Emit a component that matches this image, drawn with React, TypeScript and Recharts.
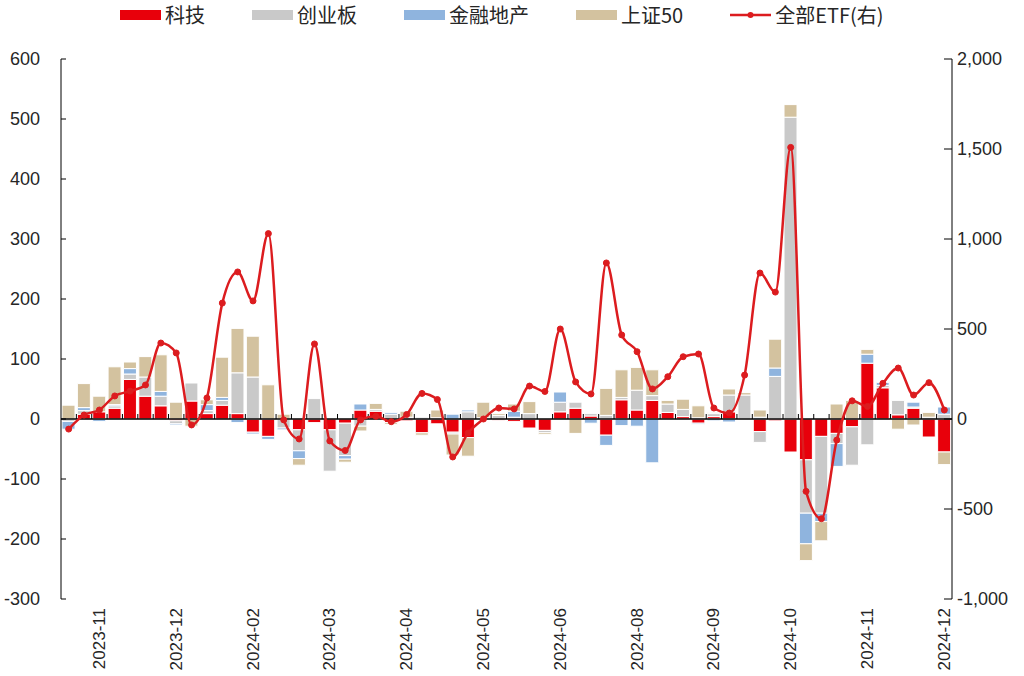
import React from 'react';
import { ComposedChart, Bar, Line, XAxis, YAxis, ReferenceLine, Legend } from 'recharts';

const dates = [
  '2023-11-10', '2023-11-17', '2023-11-24', '2023-12-01', '2023-12-08', '2023-12-15', '2023-12-22', '2023-12-29',
  '2024-01-05', '2024-01-12', '2024-01-19', '2024-01-26', '2024-02-02', '2024-02-08', '2024-02-23', '2024-03-01',
  '2024-03-08', '2024-03-15', '2024-03-22', '2024-03-29', '2024-04-03', '2024-04-12', '2024-04-19', '2024-04-26',
  '2024-04-30', '2024-05-10', '2024-05-17', '2024-05-24', '2024-05-31', '2024-06-07', '2024-06-14', '2024-06-21',
  '2024-06-28', '2024-07-05', '2024-07-12', '2024-07-19', '2024-07-26', '2024-08-02', '2024-08-09', '2024-08-16',
  '2024-08-23', '2024-08-30', '2024-09-06', '2024-09-13', '2024-09-20', '2024-09-27', '2024-09-30', '2024-10-11',
  '2024-10-18', '2024-10-25', '2024-11-01', '2024-11-08', '2024-11-15', '2024-11-22', '2024-11-29', '2024-12-06',
  '2024-12-13', '2024-12-20',
];

// 科技
const tech = [
  0, 8, 12, 18, 66, 38, 22, -3, 30, 9, 23, 9, -22, -29, 0, -18,
  -6, -18, -7, 15, 13, -6, -3, -23, -8, -22, -31, 0, -2, -4, -15, -19,
  12, 18, 5, -27, 32, 15, 31, 11, 4, -7, 4, 12, 0, -21, -3, -55,
  -68, -29, -24, -13, 93, 52, 7, 18, -30, -55,
];
// 创业板
const chinext = [
  -4, 6, 0, 4, 9, 32, 16, -5, 30, 5, 8, 68, 70, 0, -15, -35,
  34, -69, -54, -12, 3, 8, 3, 3, 2, -3, 12, 2, 6, 3, 9, -4,
  16, 10, 4, 6, 4, 33, 8, 14, 12, 2, 5, 28, 40, -18, 71, 503,
  -89, -128, -17, -64, -43, 4, 24, 2, 3, 8,
];
// 金融地产
const finance = [
  -13, 5, -4, 2, 9, 0, 8, -2, 0, 10, 5, -6, -3, -5, -3, -13,
  0, 0, -6, 10, 0, 3, 0, 0, 0, 8, 3, 0, 0, 10, 0, 0,
  17, 0, -7, -17, -11, -12, -73, 0, 0, -2, -3, -5, 0, 3, 14, 0,
  -51, -14, -38, 0, 15, 5, 0, 8, 0, 12,
];
// 上证50
const sz50 = [
  23, 40, 26, 63, 11, 34, 61, 28, -12, 8, 67, 74, 68, 57, 8, -11,
  0, 0, -5, -8, 10, -3, 10, -4, 13, -35, -31, 26, 3, 12, 20, -3,
  0, -24, 0, 45, 46, 38, 43, 6, 17, 20, 2, 10, 4, 12, 48, 21,
  -28, -32, 25, 31, 8, 0, -17, -10, 8, -21,
];
// 全部ETF(右)
const etfAll = [
  -56, 22, 50, 128, 155, 189, 422, 367, -33, 117, 644, 817, 656, 1030, -5, -111,
  417, -122, -175, -5, 15, -15, 25, 142, 108, -211, -78, 0, 61, 56, 183, 153,
  500, 206, 139, 867, 467, 374, 167, 235, 346, 361, 61, 33, 244, 811, 705, 1509,
  -402, -554, -117, 101, 70, 198, 283, 133, 202, 50,
];

const seriesNames = ['科技', '创业板', '金融地产', '上证50', '全部ETF(右)'];
const leftTicks = [-300, -200, -100, 0, 100, 200, 300, 400, 500, 600];
const rightTicks = [-1000, -500, 0, 500, 1000, 1500, 2000];

const RED = '#E8000B';
const GRAY = '#C9C9C9';
const BLUE = '#8FB4DE';
const TAN = '#D3C29F';
const LINE = '#DC1C1F';

const data = dates.map((d, i) => ({
  date: d,
  tech: tech[i],
  chinext: chinext[i],
  finance: finance[i],
  sz50: sz50[i],
  etf: etfAll[i],
}));

const FONT = '"Liberation Sans", Arial, "Noto Sans CJK SC", sans-serif';
const CJK = '"Noto Sans CJK SC", "Liberation Sans", sans-serif';

const XTick = (props: any) => {
  const { x, y, payload, index } = props;
  if (index % 5 !== 2) return null;
  const label = String(payload.value).slice(0, 7);
  return (
    <text
      x={x}
      y={y}
      transform={`rotate(-90, ${x}, ${y})`}
      textAnchor="end"
      dominantBaseline="central"
      fontSize={17}
      fontFamily={FONT}
      fill="#262626"
    >
      {label}
    </text>
  );
};

const ZeroLine = (props: any) => {
  const { x1, x2, y1 } = props;
  const n = dates.length;
  const step = (x2 - x1) / n;
  const marks = [];
  for (let k = 1; k < n; k++) {
    const xx = x1 + k * step;
    marks.push(<line key={k} x1={xx} x2={xx} y1={y1} y2={y1 - 5} stroke="#000" strokeWidth={1} />);
  }
  return (
    <g>
      <line x1={x1} x2={x2} y1={y1} y2={y1} stroke="#000" strokeWidth={1.5} />
      {marks}
    </g>
  );
};

const LegendContent = (props: any) => {
  const payload = [...(props.payload || [])].sort(
    (a: any, b: any) => seriesNames.indexOf(a.value) - seriesNames.indexOf(b.value)
  );
  return (
    <div style={{ display: 'flex', alignItems: 'center', paddingLeft: 120, gap: 47, height: 30 }}>
      {payload.map((p: any) => (
        <div key={p.value} style={{ display: 'flex', alignItems: 'center' }}>
          {p.type === 'line' ? (
            <svg width={41} height={12} style={{ display: 'block' }}>
              <line x1={0} x2={41} y1={6} y2={6} stroke={LINE} strokeWidth={2.5} />
              <circle cx={20.5} cy={6} r={3} fill={LINE} />
            </svg>
          ) : (
            <div style={{ width: 41, height: 10, background: p.color }} />
          )}
          <span style={{ marginLeft: 4, fontSize: 20, fontFamily: CJK, color: '#262626', lineHeight: '30px' }}>
            {p.value}
          </span>
        </div>
      ))}
    </div>
  );
};

export default function App() {
  return (
    <div style={{ position: 'absolute', left: 0, top: 0, width: 1024, height: 676, background: '#fff' }}>
      <ComposedChart
        width={1024}
        height={676}
        data={data}
        stackOffset="sign"
        barCategoryGap={1}
        margin={{ top: 59, right: 0, bottom: 0, left: 0 }}
      >
        <XAxis
          dataKey="date"
          height={77}
          interval={0}
          tickLine={false}
          axisLine={false}
          tickSize={0}
          tickMargin={9}
          tick={<XTick />}
        />
        <YAxis
          yAxisId="left"
          orientation="left"
          width={61}
          domain={[-300, 600]}
          ticks={leftTicks}
          allowDataOverflow
          axisLine={{ stroke: '#000', strokeWidth: 1 }}
          tickLine={{ stroke: '#000' }}
          tickSize={-5}
          tickMargin={26}
          tick={{ fontSize: 18, fontFamily: FONT, fill: '#262626' }}
        />
        <YAxis
          yAxisId="right"
          orientation="right"
          width={72}
          domain={[-1000, 2000]}
          ticks={rightTicks}
          allowDataOverflow
          axisLine={{ stroke: '#000', strokeWidth: 1 }}
          tickLine={{ stroke: '#000' }}
          tickSize={-8}
          tickMargin={13}
          tickFormatter={(v: number) => v.toLocaleString('en-US')}
          tick={{ fontSize: 18, fontFamily: FONT, fill: '#262626', textAnchor: 'start' }}
        />
        <Legend
          verticalAlign="middle"
          align="center"
          wrapperStyle={{ top: 0, left: 0, width: 1024, height: 30 }}
          content={<LegendContent />}
        />
        <Bar yAxisId="left" dataKey="tech" name="科技" stackId="s" fill={RED} stroke="#fff" strokeWidth={1} isAnimationActive={false} />
        <Bar yAxisId="left" dataKey="chinext" name="创业板" stackId="s" fill={GRAY} stroke="#fff" strokeWidth={1} isAnimationActive={false} />
        <Bar yAxisId="left" dataKey="finance" name="金融地产" stackId="s" fill={BLUE} stroke="#fff" strokeWidth={1} isAnimationActive={false} />
        <Bar yAxisId="left" dataKey="sz50" name="上证50" stackId="s" fill={TAN} stroke="#fff" strokeWidth={1} isAnimationActive={false} />
        <ReferenceLine yAxisId="left" y={0} shape={<ZeroLine />} />
        <Line
          yAxisId="right"
          dataKey="etf"
          name="全部ETF(右)"
          type="monotone"
          stroke={LINE}
          strokeWidth={2.5}
          dot={{ r: 3, fill: LINE, stroke: LINE, strokeWidth: 1 }}
          isAnimationActive={false}
        />
      </ComposedChart>
    </div>
  );
}
